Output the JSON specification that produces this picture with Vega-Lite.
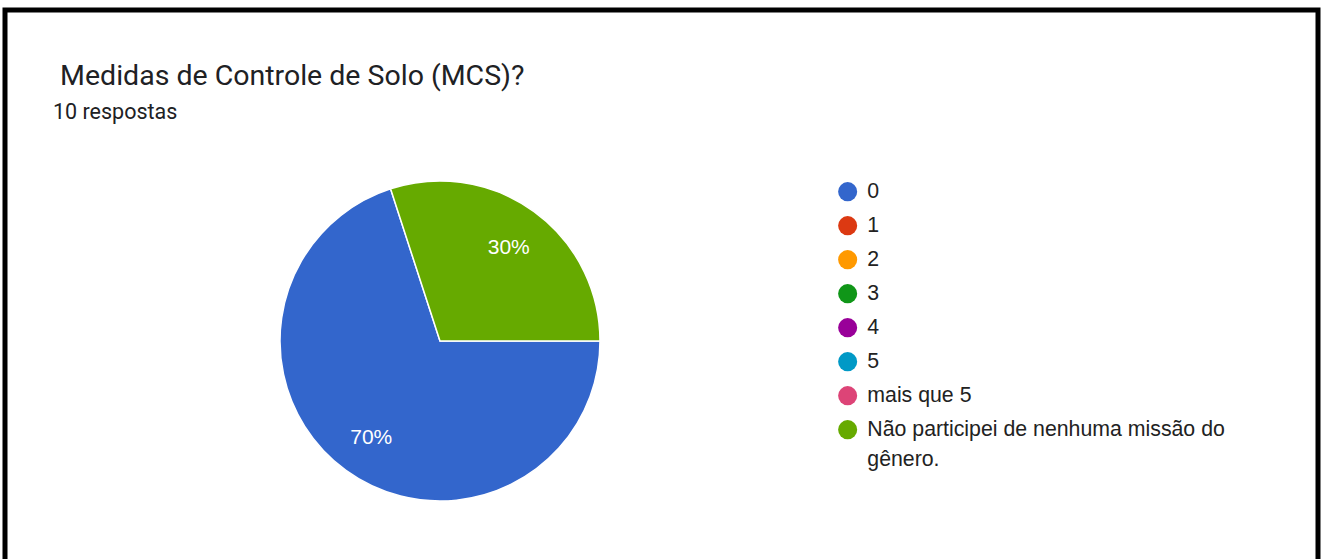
{
  "$schema": "https://vega.github.io/schema/vega-lite/v6.json",
  "width": 1313,
  "height": 552,
  "autosize": {"type": "none"},
  "padding": {"left": 5, "top": 10, "right": 3, "bottom": -3},
  "background": "white",
  "view": {"stroke": "black", "strokeWidth": 5, "fill": "white"},
  "config": {
    "font": "Roboto",
    "style": {"guide-label": {"lineHeight": 30}}
  },
  "title": {
    "text": "\u200b\u00a0Medidas de Controle de Solo (MCS)?",
    "subtitle": "10 respostas",
    "orient": "top",
    "anchor": "start",
    "frame": "group",
    "dx": 48,
    "offset": -113,
    "font": "Roboto",
    "fontSize": 28.5,
    "fontWeight": "normal",
    "color": "#202124",
    "subtitleFont": "Roboto",
    "subtitleFontSize": 21.5,
    "subtitleColor": "#202124",
    "subtitlePadding": 11
  },
  "data": {
    "values": [
      {"resposta": "0", "share": 0.7},
      {"resposta": "1", "share": 0},
      {"resposta": "2", "share": 0},
      {"resposta": "3", "share": 0},
      {"resposta": "4", "share": 0},
      {"resposta": "5", "share": 0},
      {"resposta": "mais que 5", "share": 0},
      {"resposta": "Não participei de nenhuma missão do gênero.", "share": 0.3}
    ]
  },
  "transform": [{"filter": "datum.share > 0"}],
  "encoding": {
    "theta": {
      "field": "share",
      "type": "quantitative",
      "stack": true,
      "scale": {"range": [1.5708, 7.8540]}
    },
    "order": {"field": "share", "type": "quantitative", "sort": "descending"}
  },
  "layer": [
    {
      "mark": {"type": "arc", "outerRadius": 160, "x": 435, "y": 331, "stroke": "white", "strokeWidth": 1.5},
      "encoding": {
        "color": {
          "field": "resposta",
          "type": "nominal",
          "scale": {
            "domain": ["0", "1", "2", "3", "4", "5", "mais que 5", "Não participei de nenhuma missão do gênero."],
            "range": ["#3366cc", "#dc3912", "#ff9900", "#109618", "#990099", "#0099c6", "#dd4477", "#66aa00"]
          },
          "legend": {
            "orient": "none",
            "legendX": 832,
            "legendY": 171,
            "title": null,
            "padding": 0,
            "symbolType": "circle",
            "symbolSize": 363,
            "symbolStrokeWidth": 0,
            "labelFont": "Liberation Sans",
            "labelFontSize": 21.3,
            "labelColor": "#222222",
            "labelOffset": 9,
            "labelLimit": 700,
            "rowPadding": 12,
            "labelExpr": "datum.label == 'Não participei de nenhuma missão do gênero.' ? ['Não participei de nenhuma missão do', 'gênero.'] : datum.label"
          }
        }
      }
    },
    {
      "mark": {"type": "text", "radius": 117, "x": 435, "y": 331, "dy": 2, "fill": "white", "fontSize": 21, "font": "Liberation Sans"},
      "encoding": {
        "detail": {"field": "resposta", "type": "nominal"},
        "text": {"field": "share", "type": "quantitative", "format": ".0%"}
      }
    }
  ]
}
